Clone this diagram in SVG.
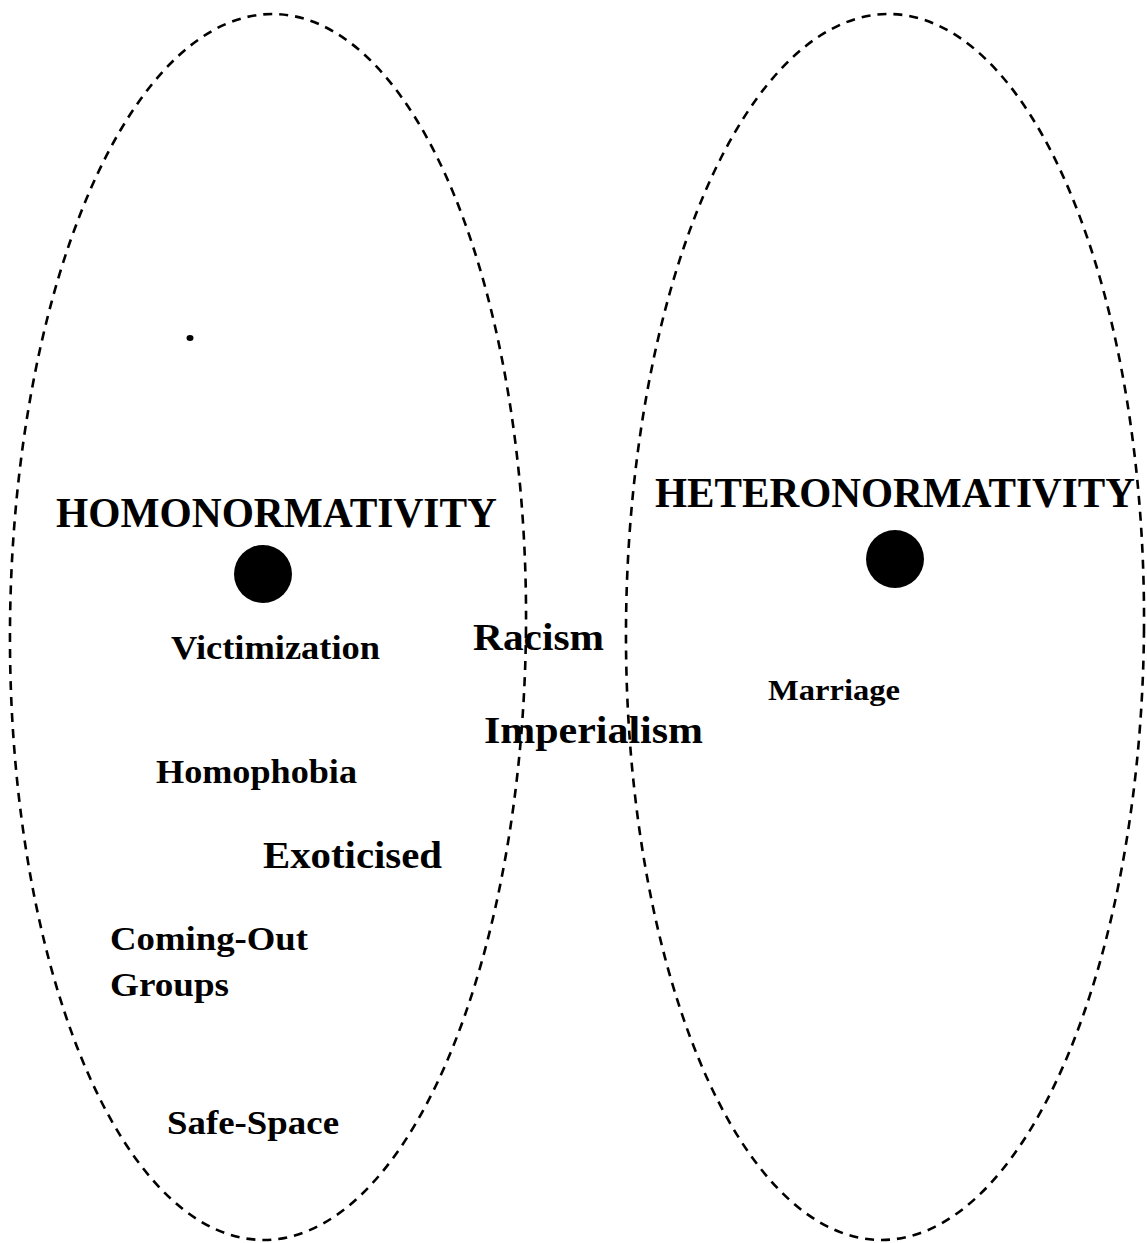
<svg xmlns="http://www.w3.org/2000/svg" width="1147" height="1243" viewBox="0 0 1147 1243">
<style>
.set{fill:none;stroke:#000;stroke-width:2.6;stroke-dasharray:9 7}
.t{font-family:"Liberation Serif","Times New Roman",serif;font-weight:bold;fill:#000}
.dot{fill:#000}
</style>
<rect width="1147" height="1243" fill="#fff"/>
<g id="homonormativity">
<ellipse class="set" cx="268" cy="627" rx="258" ry="613" transform="rotate(0.5 268 627)"/>
<text class="t" x="56" y="527" font-size="43" textLength="441" lengthAdjust="spacingAndGlyphs">HOMONORMATIVITY</text>
<circle class="dot" cx="263" cy="574" r="29"/>
<ellipse class="dot" cx="190" cy="338" rx="3.5" ry="3"/>
</g>
<g id="heteronormativity">
<ellipse class="set" cx="885" cy="627" rx="259" ry="613" transform="rotate(0.4 885 627)"/>
<text class="t" x="655" y="507" font-size="43" textLength="480" lengthAdjust="spacingAndGlyphs">HETERONORMATIVITY</text>
<circle class="dot" cx="895" cy="559" r="29"/>
</g>
<g id="victimization"><text class="t" x="171" y="659" font-size="34" textLength="209" lengthAdjust="spacingAndGlyphs">Victimization</text></g>
<g id="racism"><text class="t" x="473" y="650" font-size="38" textLength="131" lengthAdjust="spacingAndGlyphs">Racism</text></g>
<g id="marriage"><text class="t" x="768" y="700" font-size="29" textLength="132" lengthAdjust="spacingAndGlyphs">Marriage</text></g>
<g id="imperialism"><text class="t" x="484" y="743" font-size="38" textLength="219" lengthAdjust="spacingAndGlyphs">Imperialism</text></g>
<g id="homophobia"><text class="t" x="156" y="783" font-size="33" textLength="201" lengthAdjust="spacingAndGlyphs">Homophobia</text></g>
<g id="exoticised"><text class="t" x="263" y="868" font-size="37" textLength="179" lengthAdjust="spacingAndGlyphs">Exoticised</text></g>
<g id="coming-out-groups">
<text class="t" x="110" y="950" font-size="34" textLength="198" lengthAdjust="spacingAndGlyphs">Coming-Out</text>
<text class="t" x="110" y="996" font-size="34" textLength="119" lengthAdjust="spacingAndGlyphs">Groups</text>
</g>
<g id="safe-space"><text class="t" x="167" y="1134" font-size="34" textLength="172" lengthAdjust="spacingAndGlyphs">Safe-Space</text></g>
<g id="connectors"></g>
</svg>
